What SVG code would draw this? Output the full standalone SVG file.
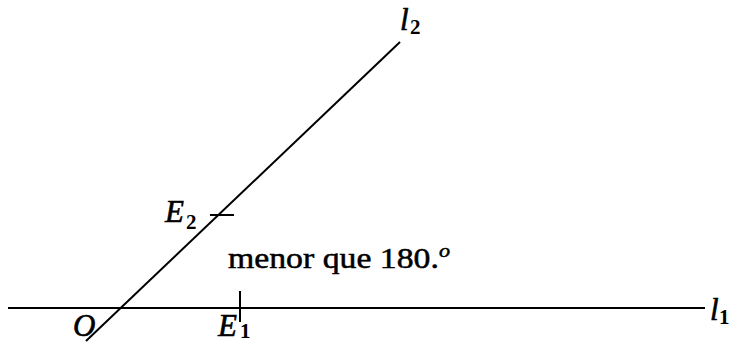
<svg xmlns="http://www.w3.org/2000/svg" width="729" height="342" viewBox="0 0 729 342">
<style>
.ln{stroke:#000;stroke-width:2;fill:none}
.it{font-family:"Liberation Serif",serif;font-style:italic;font-size:31px;fill:#000;stroke:#000;stroke-width:0.6}
.sub{font-family:"Liberation Serif",serif;font-style:normal;font-size:21px;font-weight:bold;fill:#000}
.tx{font-family:"Liberation Serif",serif;font-size:29px;fill:#000;stroke:#000;stroke-width:0.5}
</style>
<rect width="729" height="342" fill="#fff"/>
<g id="connectors">
<line class="ln" x1="8" y1="308" x2="705" y2="308"/>
<line class="ln" x1="86" y1="341" x2="400" y2="42"/>
<line class="ln" x1="210" y1="215" x2="234" y2="215"/>
<line class="ln" x1="240" y1="291" x2="240" y2="322"/>
</g>
<g id="l2"><text class="it" x="400" y="30">l</text><text class="sub" x="410" y="34">2</text></g>
<g id="l1"><text class="it" x="710" y="320">l</text><text class="sub" x="719" y="324" font-size="14">1</text></g>
<g id="E2"><text class="it" x="165" y="222">E</text><text class="sub" x="186" y="229">2</text></g>
<g id="E1"><text class="it" x="218" y="336">E</text><text class="sub" x="240" y="338">1</text></g>
<g id="O"><text class="it" x="73" y="336">O</text></g>
<g id="label"><text class="tx" x="228" y="268" textLength="222" lengthAdjust="spacingAndGlyphs">menor que 180.<tspan font-style="italic" dy="-11" font-size="19">o</tspan></text></g>
</svg>
